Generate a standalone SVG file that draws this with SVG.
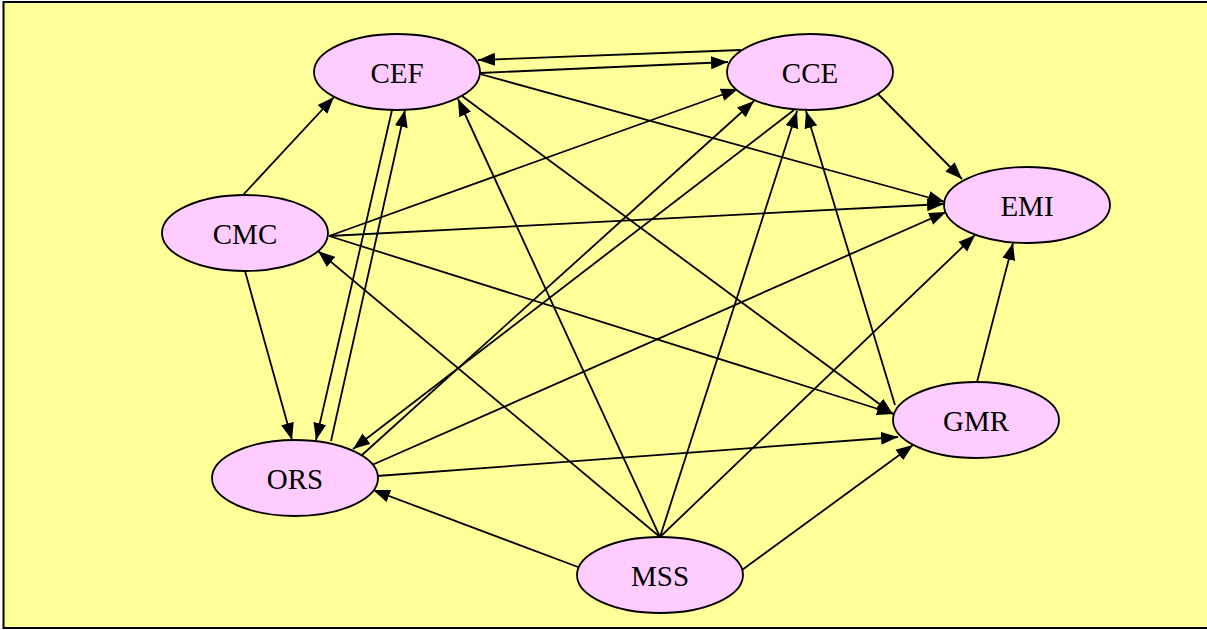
<svg xmlns="http://www.w3.org/2000/svg" width="1207" height="630" viewBox="0 0 1207 630">
<style>
.node ellipse{fill:#FFCCFF;stroke:#000;stroke-width:1.8}
.node text{font-family:"Liberation Serif","Times New Roman",serif;font-size:29px;fill:#000;text-anchor:middle}
.edges line{stroke:#000;stroke-width:1.8;marker-end:url(#arr)}
</style>
<defs>
<marker id="arr" markerUnits="userSpaceOnUse" markerWidth="18" markerHeight="14" refX="17" refY="7" orient="auto">
<path d="M0,0.5 L17,7 L0,13.5 Z" fill="#000"/>
</marker>
</defs>
<rect x="0" y="0" width="1207" height="630" fill="#fff"/>
<rect x="3.5" y="2" width="1215" height="626" fill="#FFFF99" stroke="#000" stroke-width="2"/>
<g class="edges" id="connectors">
<line x1="741" y1="50" x2="478" y2="60"/>
<line x1="480" y1="73" x2="728" y2="62"/>
<line x1="480" y1="74" x2="945" y2="202"/>
<line x1="243" y1="195" x2="334" y2="97"/>
<line x1="329" y1="236" x2="738" y2="89"/>
<line x1="329" y1="236" x2="944" y2="204"/>
<line x1="329" y1="236" x2="894" y2="414"/>
<line x1="245" y1="271" x2="292" y2="440"/>
<line x1="392" y1="110" x2="316" y2="440"/>
<line x1="331" y1="441" x2="405" y2="110"/>
<line x1="878" y1="94" x2="962" y2="179"/>
<line x1="794" y1="110" x2="353" y2="449"/>
<line x1="362" y1="455" x2="754" y2="101"/>
<line x1="372" y1="465" x2="946" y2="212"/>
<line x1="377" y1="476" x2="898" y2="437"/>
<line x1="462" y1="96" x2="893" y2="414"/>
<line x1="895" y1="405" x2="806" y2="111"/>
<line x1="977" y1="382" x2="1013" y2="243"/>
<line x1="578" y1="567" x2="373" y2="490"/>
<line x1="660" y1="537" x2="318" y2="251"/>
<line x1="660" y1="537" x2="458" y2="99"/>
<line x1="660" y1="537" x2="797" y2="111"/>
<line x1="660" y1="537" x2="975" y2="235"/>
<line x1="742" y1="570" x2="913" y2="445"/>
</g>
<g class="node" id="CEF"><ellipse cx="397" cy="72" rx="83" ry="38"/><text x="397" y="83">CEF</text></g>
<g class="node" id="CCE"><ellipse cx="810" cy="72" rx="83" ry="38"/><text x="810" y="83">CCE</text></g>
<g class="node" id="CMC"><ellipse cx="245" cy="233" rx="83" ry="38"/><text x="245" y="244">CMC</text></g>
<g class="node" id="EMI"><ellipse cx="1027" cy="205" rx="83" ry="38"/><text x="1027" y="216">EMI</text></g>
<g class="node" id="GMR"><ellipse cx="976" cy="420" rx="83" ry="38"/><text x="976" y="431">GMR</text></g>
<g class="node" id="ORS"><ellipse cx="295" cy="478" rx="83" ry="38"/><text x="295" y="489">ORS</text></g>
<g class="node" id="MSS"><ellipse cx="660" cy="575" rx="83" ry="38"/><text x="660" y="586">MSS</text></g>
</svg>
